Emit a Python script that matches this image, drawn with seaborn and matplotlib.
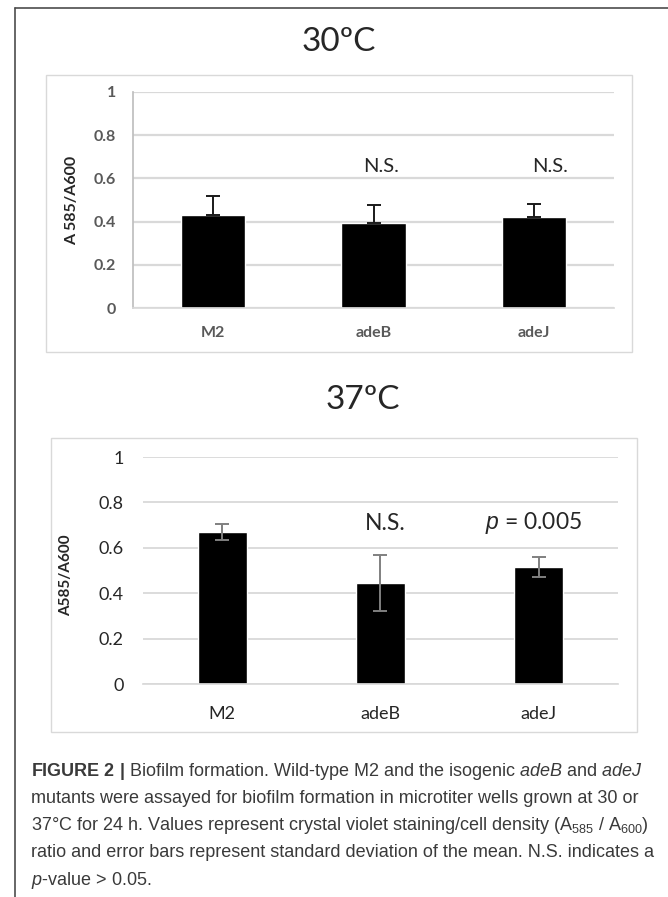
import matplotlib
matplotlib.use("Agg")
import matplotlib.pyplot as plt
import seaborn as sns
import pandas as pd
from matplotlib.patches import Rectangle
from matplotlib.lines import Line2D

# values
strains = ["M2", "adeB", "adeJ"]
mean_30 = [0.43, 0.395, 0.42]
sd_30 = [0.09, 0.08, 0.06]
mean_37 = [0.67, 0.445, 0.515]
sd_37 = [0.035, 0.125, 0.045]
yticks = [0, 0.2, 0.4, 0.6, 0.8, 1]
ytick_labels = ["0", "0.2", "0.4", "0.6", "0.8", "1"]
notes_30 = ["", "N.S.", "N.S."]
notes_37 = ["", "N.S.", "$\\mathit{p}$ = 0.005"]
caption_lines = [
    r"$\mathbf{FIGURE\ 2\ |}$ Biofilm formation. Wild-type M2 and the isogenic $\mathit{adeB}$ and $\mathit{adeJ}$",
    "mutants were assayed for biofilm formation in microtiter wells grown at 30 or",
    r"37°C for 24 h. Values represent crystal violet staining/cell density (A$_{585}$ / A$_{600}$)",
    "ratio and error bars represent standard deviation of the mean. N.S. indicates a",
    r"$\mathit{p}$-value > 0.05.",
]

sns.set_theme(style="white")
plt.rcParams["font.family"] = ["Lato", "DejaVu Sans"]
plt.rcParams["mathtext.fontset"] = "custom"
plt.rcParams["mathtext.rm"] = "Liberation Sans"
plt.rcParams["mathtext.it"] = "Liberation Sans:italic"
plt.rcParams["mathtext.bf"] = "Liberation Sans:bold"

W, H = 668, 897
fig = plt.figure(figsize=(W / 100, H / 100), dpi=100)


def box(x0, y0, x1, y1):
    # pixel box (top-left origin) -> figure fraction rect
    return [x0 / W, 1 - y1 / H, (x1 - x0) / W, (y1 - y0) / H]


# outer frame (only top and left edges are visible in the crop)
fig.add_artist(Line2D([15 / W, 1], [1 - 8 / H, 1 - 8 / H], color="#4d4d4d", lw=1.2))
fig.add_artist(Line2D([15 / W, 15 / W], [1 - 8 / H, 0], color="#4d4d4d", lw=1.2))

# chart-area boxes
for b in [box(46, 75, 632, 352), box(51, 438, 637, 732)]:
    fig.add_artist(Rectangle((b[0], b[1]), b[2], b[3], transform=fig.transFigure,
                             fill=False, ec="#d9d9d9", lw=1))

# ---- 30 C ----
fig.text(339 / W, 1 - 42 / H, "30ºC", ha="center", va="center", fontsize=24)
df30 = pd.DataFrame({"strain": strains, "value": mean_30})
ax1 = fig.add_axes(box(133, 92, 614, 308))
sns.barplot(data=df30, x="strain", y="value", color="black", saturation=1,
            width=0.4, ax=ax1)
ax1.errorbar(range(len(strains)), mean_30, yerr=[[0] * len(strains), sd_30],
             fmt="none", ecolor="#1a1a1a", elinewidth=1.4, capsize=5, capthick=1.4)
ax1.set_xlim(-0.5, len(strains) - 0.5)
ax1.set_ylim(0, 1)
ax1.set_yticks(yticks)
ax1.set_yticklabels(ytick_labels, fontweight="bold", color="#595959", fontsize=11.5)
ax1.set_xticks(range(len(strains)))
ax1.set_xticklabels(strains, fontweight="bold", color="#595959", fontsize=11.5)
ax1.tick_params(axis="y", length=0, pad=12)
ax1.tick_params(axis="x", length=0, pad=13)
ax1.grid(axis="y", color="#d9d9d9", lw=1.6)
ax1.set_axisbelow(True)
for s in ["top", "right"]:
    ax1.spines[s].set_visible(False)
ax1.spines["left"].set_color("#bfbfbf")
ax1.spines["bottom"].set_color("#d9d9d9")
ax1.set_xlabel("")
ax1.set_ylabel("A 585/A600", fontweight="bold", fontsize=11.5)
ax1.yaxis.set_label_coords(-0.112, 0.5)
for i, note in enumerate(notes_30):
    if note:
        ax1.text(i + 0.05 * i, 0.655, note, ha="center", va="center", fontsize=14.5)

# ---- 37 C ----
fig.text(363 / W, 1 - 400 / H, "37ºC", ha="center", va="center", fontsize=24)
df37 = pd.DataFrame({"strain": strains, "value": mean_37})
ax2 = fig.add_axes(box(143, 457, 618, 684))
sns.barplot(data=df37, x="strain", y="value", color="black", saturation=1,
            width=0.31, ax=ax2)
ax2.errorbar(range(len(strains)), mean_37, yerr=sd_37,
             fmt="none", ecolor="#808080", elinewidth=1.4, capsize=5, capthick=1.4)
ax2.set_xlim(-0.5, len(strains) - 0.5)
ax2.set_ylim(0, 1)
ax2.set_yticks(yticks)
ax2.set_yticklabels(ytick_labels, color="#262626", fontsize=13)
ax2.set_xticks(range(len(strains)))
ax2.set_xticklabels(strains, color="#262626", fontsize=13)
ax2.tick_params(axis="y", length=0, pad=14)
ax2.tick_params(axis="x", length=0, pad=16)
ax2.grid(axis="y", color="#d9d9d9", lw=1.3)
ax2.set_axisbelow(True)
for s in ["top", "right", "left"]:
    ax2.spines[s].set_visible(False)
ax2.spines["bottom"].set_color("#d9d9d9")
ax2.set_xlabel("")
ax2.set_ylabel("A585/A600", fontweight="bold", fontsize=11)
ax2.yaxis.set_label_coords(-0.147, 0.48)
ax2.text(1.03, 0.709, notes_37[1], ha="center", va="center", fontsize=16.5)
ax2.text(1.97, 0.709, notes_37[2], ha="center", va="center", fontsize=16.5)

# ---- caption ----
cap = []
for k, line in enumerate(caption_lines):
    cap.append(fig.text(31 / W, 1 - (771 + 27.3 * k) / H, line, ha="left", va="center",
                        fontsize=11, family="Liberation Sans", color="#3a3a3a"))
fig.canvas.draw()
w = cap[2].get_window_extent(fig.canvas.get_renderer()).width
for t in cap:
    t.set_fontsize(11 * 619 / w)

fig.savefig("out.png", dpi=100)
